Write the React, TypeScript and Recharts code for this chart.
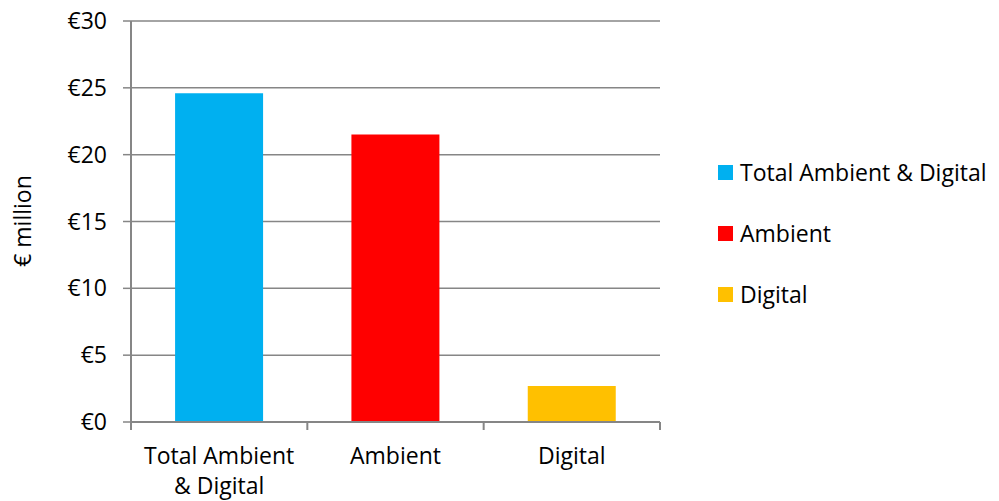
import { Bar, BarChart, CartesianGrid, Cell, XAxis, YAxis } from "recharts"

const categories = ["Total Ambient & Digital", "Ambient", "Digital"]
const tickLines = [["Total Ambient", "& Digital"], ["Ambient"], ["Digital"]]
const values = [24.6, 21.5, 2.7]
const colors = ["#00B0F0", "#FF0000", "#FFC000"]
const yTicks = [0, 5, 10, 15, 20, 25, 30]

const data = categories.map((name, i) => ({ name, value: values[i] }))

const FONT = "'Open Sans', sans-serif"
const AXIS = "#868686"
const TICK_SIZE = 8
const TICK_MARGIN = 12

function CategoryTick(props: any) {
  const { x, y, payload, index } = props
  const half = payload?.offset ?? 0
  const axisY = y - TICK_SIZE - TICK_MARGIN
  const lines = tickLines[index] ?? [String(payload.value)]
  return (
    <g>
      <line x1={x - half} x2={x - half} y1={axisY} y2={axisY + TICK_SIZE} stroke={AXIS} strokeWidth={2} />
      {index === categories.length - 1 && (
        <line x1={x + half} x2={x + half} y1={axisY} y2={axisY + TICK_SIZE} stroke={AXIS} strokeWidth={2} />
      )}
      <text x={x} y={axisY + 42} textAnchor="middle" fill="#000" fontSize={23} fontFamily={FONT}>
        {lines.map((l, i) => (
          <tspan key={i} x={x} dy={i === 0 ? 0 : 30}>{l}</tspan>
        ))}
      </text>
    </g>
  )
}

function AxisTitle() {
  return (
    <text
      x={22}
      y={221}
      transform="rotate(-90, 22, 221)"
      textAnchor="middle"
      dominantBaseline="central"
      fontSize={23}
      fontFamily={FONT}
      fill="#000"
    >
      € million
    </text>
  )
}

export default function App() {
  return (
    <div style={{ position: "absolute", left: 0, top: 0, width: 999, height: 501, background: "#fff" }}>
      <BarChart
        width={999}
        height={501}
        data={data}
        margin={{ top: 21, right: 339, bottom: 0, left: 0 }}
        barCategoryGap="25%"
        style={{ fontFamily: FONT }}
      >
        <CartesianGrid vertical={false} stroke={AXIS} strokeWidth={1.5} />
        <XAxis
          dataKey="name"
          height={79}
          axisLine={{ stroke: AXIS, strokeWidth: 2 }}
          tickLine={false}
          tickSize={TICK_SIZE}
          tickMargin={TICK_MARGIN}
          interval={0}
          tick={<CategoryTick />}
        />
        <YAxis
          width={131}
          domain={[0, 30]}
          ticks={yTicks}
          interval={0}
          tickFormatter={(v) => `€${v}`}
          axisLine={{ stroke: AXIS, strokeWidth: 2 }}
          tickLine={{ stroke: AXIS, strokeWidth: 1.5 }}
          tickSize={TICK_SIZE}
          tickMargin={16}
          tick={{ fill: "#000", fontSize: 23, fontFamily: FONT }}
          label={<AxisTitle />}
        />
        <Bar dataKey="value" isAnimationActive={false}>
          {data.map((d, i) => (
            <Cell key={d.name} fill={colors[i]} />
          ))}
        </Bar>
      </BarChart>
      <div style={{ position: "absolute", left: 718, top: 149, fontFamily: FONT, fontSize: 23, color: "#000" }}>
        {categories.map((c, i) => (
          <div key={c} style={{ display: "flex", alignItems: "center", height: 46, marginBottom: i < categories.length - 1 ? 15 : 0, whiteSpace: "nowrap" }}>
            <span style={{ display: "inline-block", width: 15, height: 15, background: colors[i], marginRight: 7 }} />
            <span>{c}</span>
          </div>
        ))}
      </div>
    </div>
  )
}
